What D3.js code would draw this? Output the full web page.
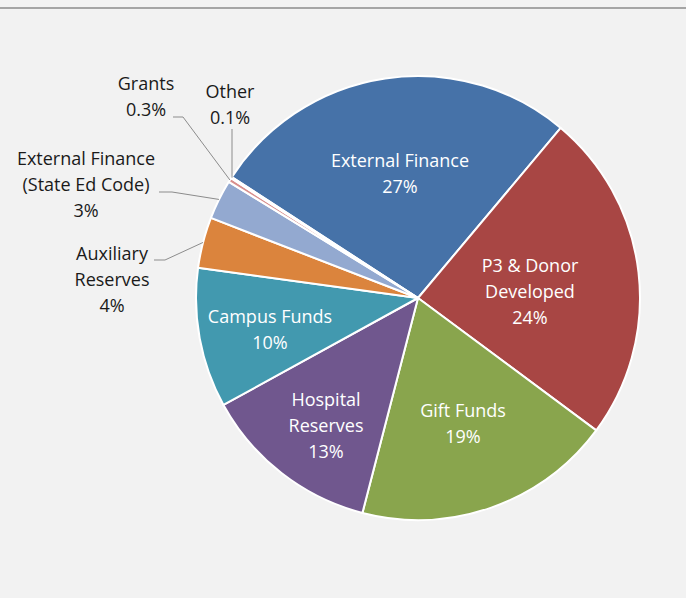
<!DOCTYPE html>
<html><head><meta charset="utf-8">
<script src="https://cdn.jsdelivr.net/npm/d3@7"></script>
<style>html,body{margin:0;padding:0;background:#f2f2f2;}svg{display:block;}</style>
</head><body>
<svg id="c" width="686" height="598"></svg>
<script>
const categories = ["External Finance","P3 & Donor Developed","Gift Funds","Hospital Reserves","Campus Funds","Auxiliary Reserves","External Finance (State Ed Code)","Grants","Other"];
const values = [27.0, 24.1, 18.9, 13.0, 10.2, 3.7, 2.9, 0.3, 0.1];
const pctLabels = ["27%","24%","19%","13%","10%","4%","3%","0.3%","0.1%"];
const labelLines = [["External Finance"],["P3 & Donor","Developed"],["Gift Funds"],["Hospital","Reserves"],["Campus Funds"],["Auxiliary","Reserves"],["External Finance","(State Ed Code)"],["Grants"],["Other"]];
const colors = ["#4672a8","#a84644","#89a54d","#70578e","#4299af","#db843d","#93a9d0","#d88f8d","#b8cc95"];

const svg = d3.select("#c");
svg.append("rect").attr("x",0).attr("y",0).attr("width",686).attr("height",598).attr("fill","#f2f2f2");
svg.append("line").attr("x1",0).attr("x2",686).attr("y1",8).attr("y2",8).attr("stroke","#a5a5a5").attr("stroke-width",2);

const cx = 418, cy = 298, R = 222;
const start = -57 * Math.PI/180;
const pie = d3.pie().sort(null).value(d=>d).startAngle(start).endAngle(start + 2*Math.PI);
const arcs = pie(values);
const arc = d3.arc().innerRadius(0).outerRadius(R);
const g = svg.append("g").attr("transform",`translate(${cx},${cy})`);
g.selectAll("path").data(arcs).join("path")
  .attr("d",arc).attr("fill",(d,i)=>colors[i])
  .attr("stroke","#ffffff").attr("stroke-width",2).attr("stroke-linejoin","round");

const font = "'Open Sans', Lato, sans-serif";
const labelPos = [
  {x:400,y:161,inside:true},
  {x:530,y:266,inside:true},
  {x:463,y:411,inside:true},
  {x:326,y:400,inside:true},
  {x:270,y:317,inside:true},
  {x:112,y:254,inside:false},
  {x:86,y:159,inside:false},
  {x:146,y:84,inside:false},
  {x:230,y:92,inside:false}
];
const lh = 26;
arcs.forEach((a,i)=>{
  const lp = labelPos[i];
  const lines = labelLines[i].concat([pctLabels[i]]);
  const t = svg.append("text").attr("text-anchor","middle")
    .attr("font-family",font).attr("font-size",18)
    .attr("fill", lp.inside ? "#ffffff" : "#1a1a1a");
  lines.forEach((s,k)=>{
    t.append("tspan").attr("x",lp.x).attr("y",lp.y + k*lh).attr("dy","0.36em").text(s);
  });
});

function edgePoint(a, frac){
  const ang = a.startAngle + (a.endAngle - a.startAngle)*frac;
  return [cx + R*Math.sin(ang), cy - R*Math.cos(ang)];
}
const leaders = [
  {i:5, pts:[[154,260],[165,260]]},
  {i:6, pts:[[159,192],[172,192]]},
  {i:7, pts:[[173,117],[183,117]]},
  {i:8, pts:[[232,129]]}
];
leaders.forEach(L=>{
  const e = edgePoint(arcs[L.i], 0.5);
  let pts = L.pts.slice();
  if (L.i===8) pts.push([pts[0][0], e[1]]); else pts.push(e);
  svg.append("path").attr("d", d3.line()(pts))
    .attr("fill","none").attr("stroke","#8c8c8c").attr("stroke-width",1);
});
</script>
</body></html>
